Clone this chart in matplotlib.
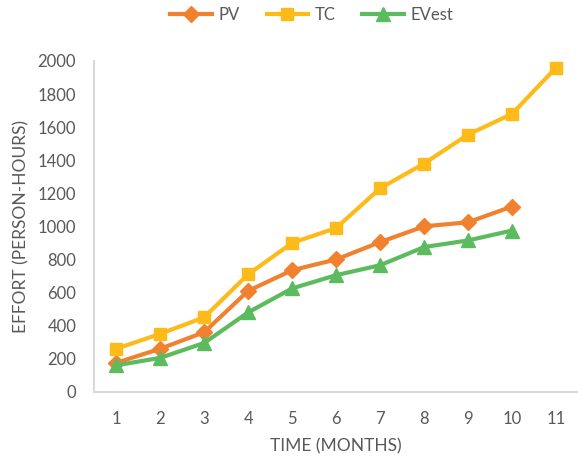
import matplotlib
matplotlib.use("Agg")
import matplotlib.pyplot as plt

months = [1, 2, 3, 4, 5, 6, 7, 8, 9, 10, 11]
pv = [175, 260, 360, 610, 735, 800, 905, 1000, 1025, 1120]
tc = [260, 350, 450, 710, 900, 990, 1230, 1380, 1555, 1680, 1960]
ev_est = [160, 205, 295, 480, 625, 705, 765, 875, 915, 975]

C = {"pv": "#F0822F", "tc": "#FDBA19", "ev": "#5DBB5F",
     "text": "#595959", "spine": "#D9D9D9"}

plt.rcParams.update({"font.family": ["Lato", "DejaVu Sans"], "font.size": 11})

fig = plt.figure(figsize=(5.78, 4.62), dpi=100)
ax = fig.add_axes([0.163, 0.152, 0.837, 0.716])

ax.plot(months[:len(pv)], pv, color=C["pv"], lw=3, marker="D", ms=8, label="PV")
ax.plot(months, tc, color=C["tc"], lw=3, marker="s", ms=9, label="TC")
ax.plot(months[:len(ev_est)], ev_est, color=C["ev"], lw=3, marker="^", ms=10, label="EVest")

ax.set_xlim(0.5, 11.5)
ax.set_ylim(0, 2000)
ax.set_yticks(range(0, 2001, 200))
ax.set_xticks(months)
ax.tick_params(length=0, colors=C["text"], labelsize=12)
ax.tick_params(axis="x", pad=14)
ax.tick_params(axis="y", pad=13)
for s in ["top", "right"]:
    ax.spines[s].set_visible(False)
for s in ["left", "bottom"]:
    ax.spines[s].set_color(C["spine"])
    ax.spines[s].set_linewidth(1.5)

ax.set_xlabel("TIME (MONTHS)", color=C["text"], fontsize=12.5, labelpad=8)
ax.set_ylabel("EFFORT (PERSON-HOURS)", color=C["text"], fontsize=12.5, labelpad=6)

ax.legend(loc="lower center", bbox_to_anchor=(0.45, 1.07), ncol=3, frameon=False,
          fontsize=12, labelcolor=C["text"], handlelength=2.5, columnspacing=1.6,
          handletextpad=0.4)

fig.savefig("out.png", dpi=100)
